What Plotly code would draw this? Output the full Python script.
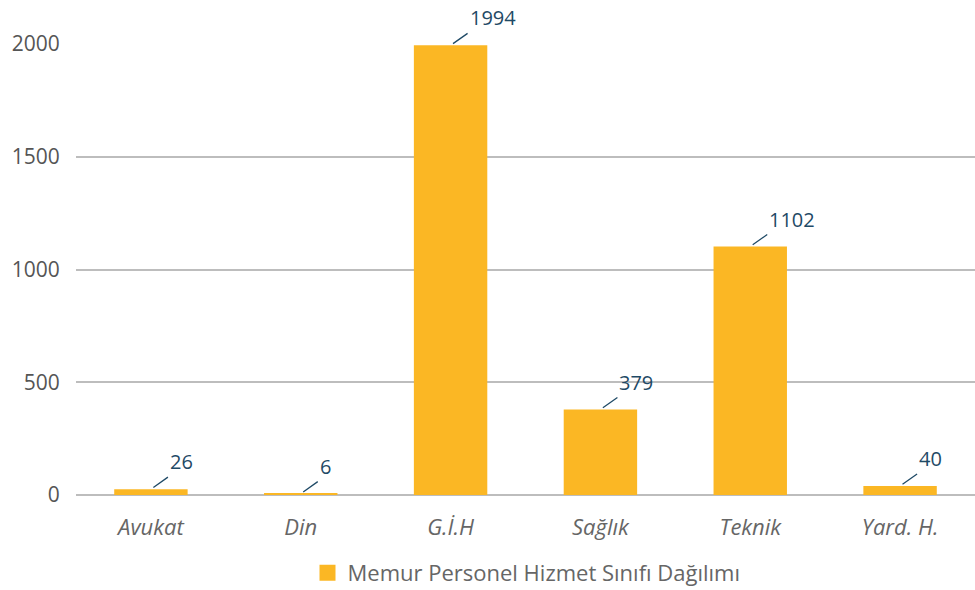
import plotly.graph_objects as go

categories = ["Avukat", "Din", "G.İ.H", "Sağlık", "Teknik", "Yard. H."]
values = [26, 6, 1994, 379, 1102, 40]
series_name = "Memur Personel Hizmet Sınıfı Dağılımı"
y_ticks = [0, 500, 1000, 1500, 2000]

bar_color = "#FBB724"
label_color = "#1F4A66"
font_family = "Open Sans, Noto Sans, sans-serif"

fig = go.Figure()
fig.add_trace(go.Bar(
    x=categories, y=values, name=series_name,
    marker=dict(color=bar_color, line=dict(width=0)),
    showlegend=False,
))
# legend entry with a larger square swatch
fig.add_trace(go.Scatter(
    x=[None], y=[None], mode="markers", name=series_name,
    marker=dict(symbol="square", size=19, color=bar_color),
    showlegend=True,
))

for c, v in zip(categories, values):
    fig.add_annotation(
        x=c, y=v, text=str(v), showarrow=True, arrowhead=0,
        arrowwidth=1.3, arrowcolor=label_color, ax=17, ay=-12,
        standoff=3, font=dict(color=label_color, size=20, family=font_family),
        xanchor="left", yanchor="bottom",
    )

fig.update_layout(
    width=975, height=590,
    margin=dict(l=76, r=0, t=44, b=95),
    paper_bgcolor="white", plot_bgcolor="white",
    bargap=0.51,
    font=dict(family=font_family, color="#595959"),
    legend=dict(orientation="h", x=0.54, xanchor="center", xref="container",
                y=0.029, yanchor="middle", yref="container",
                font=dict(size=22, color="#666666"), itemsizing="trace"),
    xaxis=dict(showgrid=False, showline=False, ticks="outside", ticklen=13,
               tickcolor="rgba(0,0,0,0)", automargin=False,
               tickfont=dict(size=22, color="#666666", family=font_family, style="italic")),
    yaxis=dict(range=[0, 2000], tickvals=y_ticks, showgrid=True, gridcolor="#BDBDBD",
               gridwidth=2, zeroline=True, zerolinecolor="#BDBDBD", zerolinewidth=2,
               showline=False, ticks="outside", ticklen=11, tickcolor="rgba(0,0,0,0)",
               automargin=False, tickfont=dict(size=21, color="#555555")),
)

fig.write_html("out.html", config={"displayModeBar": False},
               post_script="document.body.style.margin='0';")
